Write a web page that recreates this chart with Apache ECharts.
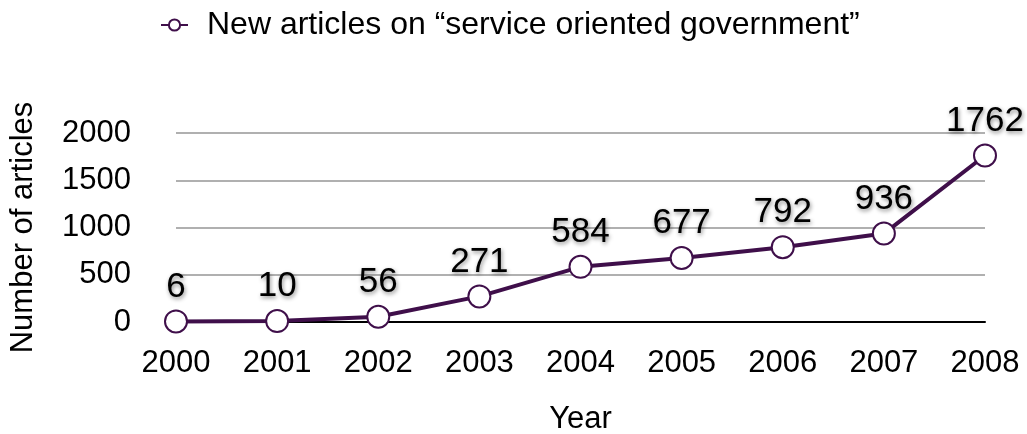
<!DOCTYPE html>
<html><head><meta charset="utf-8">
<script src="https://cdn.jsdelivr.net/npm/echarts@6/dist/echarts.min.js"></script>
<style>html,body{margin:0;padding:0;background:#fff}#c{width:1027px;height:434px}</style>
</head><body><div id="c"></div>
<script>
const years = ['2000','2001','2002','2003','2004','2005','2006','2007','2008'];
const articles = [6, 10, 56, 271, 584, 677, 792, 936, 1762];
const seriesName = 'New articles on \u201cservice oriented government\u201d';
const yTicks = [0, 500, 1000, 1500, 2000];

const chart = echarts.init(document.getElementById('c'));
const font = '"Liberation Sans", Arial, sans-serif';
chart.setOption({
  animation: false,
  textStyle: { fontFamily: font },
  legend: {
    top: 4, left: 155,
    itemWidth: 27, itemHeight: 14, itemGap: 5,
    textStyle: { fontSize: 32, color: '#000', fontFamily: font, padding: [0, 0, 0, 14] },
    data: [seriesName]
  },
  grid: { left: 176, right: 42, top: 133, bottom: 112, outerBoundsMode: 'none', containLabel: false },
  xAxis: {
    type: 'category', data: years, boundaryGap: false,
    name: 'Year', nameLocation: 'middle', nameGap: 82,
    nameTextStyle: { fontSize: 31, color: '#000', fontFamily: font },
    axisLine: { lineStyle: { color: '#000', width: 2 } },
    axisTick: { show: false },
    axisLabel: { fontSize: 31, color: '#000', margin: 26, fontFamily: font }
  },
  yAxis: {
    type: 'value', min: 0, max: 2000, interval: 500,
    name: 'Number of articles', nameLocation: 'middle', nameGap: 137, nameRotate: 90,
    nameTextStyle: { fontSize: 31, color: '#000', fontFamily: font },
    axisLine: { show: false }, axisTick: { show: false },
    axisLabel: { fontSize: 31, color: '#000', margin: 45, fontFamily: font,
      formatter: v => yTicks.includes(v) ? String(v) : '' },
    splitLine: { lineStyle: { color: '#b0b0b0', width: 2 } }
  },
  series: [{
    name: seriesName, type: 'line', data: articles,
    symbol: 'circle', symbolSize: 22,
    lineStyle: { color: '#3f0f4a', width: 4 },
    itemStyle: { color: '#fff', borderColor: '#3f0f4a', borderWidth: 2 },
    label: {
      show: true, position: 'top', distance: 5,
      fontSize: 35, color: '#000', fontFamily: font,
      textShadowColor: 'rgba(0,0,0,0.45)', textShadowBlur: 4, textShadowOffsetX: 1, textShadowOffsetY: 2
    }
  }]
});
</script></body></html>
